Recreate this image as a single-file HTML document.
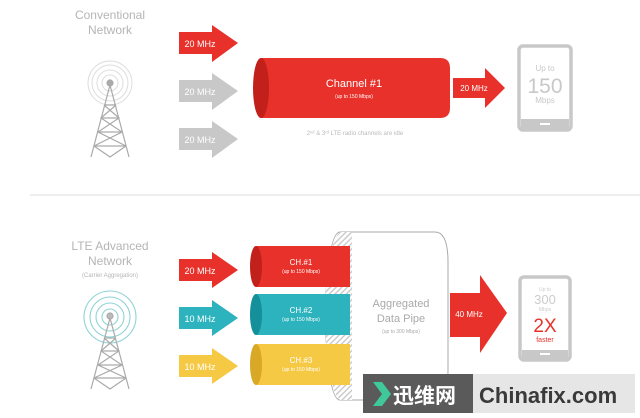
<!DOCTYPE html>
<html><head><meta charset="utf-8"><style>
body{margin:0;background:#fff;}
svg{display:block;font-family:"Liberation Sans","Noto Sans CJK SC",sans-serif;}
</style></head><body>
<svg width="640" height="418" viewBox="0 0 640 418" xmlns="http://www.w3.org/2000/svg">
<defs>
<pattern id="h" width="4" height="4" patternUnits="userSpaceOnUse" patternTransform="rotate(45)"><rect width="4" height="4" fill="#fff"/><rect width="1.5" height="4" fill="#ccc"/></pattern>
</defs>
<!-- Top section -->
<g fill="#b5b5b5" font-size="12" text-anchor="middle"><text x="110" y="19">Conventional</text><text x="110" y="34">Network</text></g>
<g fill="none" stroke="#ddd" stroke-width="1"><circle cx="110" cy="83" r="8"/><circle cx="110" cy="83" r="13"/><circle cx="110" cy="83" r="18"/><circle cx="110" cy="83" r="22"/></g>
<g stroke="#aaa" stroke-width="1.2" fill="none">
<circle cx="110" cy="83" r="3" fill="#aaa"/>
<path d="M110 85 L91 157 M110 85 L129 157 M104 105 L116 105 M101 118 L119 118 M98 132 L122 132 M94 146 L126 146 M104 105 L119 118 L98 132 L126 146 M116 105 L101 118 L122 132 L94 146 M94 146 L110 157 L126 146"/>
</g>
<!-- top arrows -->
<path d="M179 32 H212 V25 L238 43 L212 62 V54 H179Z" fill="#e8312a"/>
<text x="200" y="47" fill="#fff" font-size="9" text-anchor="middle">20 MHz</text>
<path d="M179 80 H212 V73 L238 91 L212 110 V102 H179Z" fill="#c8c8c8"/>
<text x="200" y="95" fill="#fff" font-size="9" text-anchor="middle">20 MHz</text>
<path d="M179 128 H212 V121 L238 139 L212 158 V150 H179Z" fill="#c8c8c8"/>
<text x="200" y="143" fill="#fff" font-size="9" text-anchor="middle">20 MHz</text>
<!-- channel cylinder -->
<path d="M261 58 H440 Q450 58 450 68 V108 Q450 118 440 118 H261Z" fill="#e8312a"/>
<ellipse cx="261" cy="88" rx="8" ry="30" fill="#c2201b"/>
<text x="354" y="87" fill="#fff" font-size="11" text-anchor="middle">Channel #1</text>
<text x="354" y="98" fill="#fff" font-size="5" text-anchor="middle">(up to 150 Mbps)</text>
<text x="355" y="135" fill="#bbb" font-size="6" text-anchor="middle">2ⁿᵈ &amp; 3ʳᵈ LTE radio channels are idle</text>
<path d="M453 78 H485 V68 L505 88 L485 108 V98 H453Z" fill="#e8312a"/>
<text x="474" y="91" fill="#fff" font-size="8" text-anchor="middle">20 MHz</text>
<!-- phone top -->
<rect x="519" y="46" width="52" height="84" rx="4" fill="#fff" stroke="#c8c8c8" stroke-width="3.5"/>
<rect x="521" y="119" width="48" height="10" fill="#c8c8c8"/>
<rect x="540" y="123" width="10" height="2" fill="#fff"/>
<g fill="#c8c8c8" text-anchor="middle"><text x="545" y="71" font-size="8">Up to</text><text x="545" y="93" font-size="21">150</text><text x="545" y="103" font-size="8">Mbps</text></g>
<!-- separator -->
<rect x="30" y="194" width="610" height="2" fill="#eee"/>

<!-- Bottom -->
<g fill="#b5b5b5" text-anchor="middle"><text x="110" y="250" font-size="12">LTE Advanced</text><text x="110" y="265" font-size="12">Network</text><text x="110" y="277" font-size="6">(Carrier Aggregation)</text></g>
<g fill="none" stroke="#8fd3d6" stroke-width="1.1"><circle cx="110" cy="317" r="8"/><circle cx="110" cy="317" r="14"/><circle cx="110" cy="317" r="20"/><circle cx="110" cy="317" r="26"/></g>
<rect x="88" y="300" width="44" height="90" fill="none"/>
<g stroke="#aaa" stroke-width="1.2" fill="none">
<circle cx="110" cy="316" r="3" fill="#bbb"/>
<path d="M110 318 L91 389 M110 318 L129 389 M104 338 L116 338 M101 351 L119 351 M98 365 L122 365 M94 378 L126 378 M104 338 L119 351 L98 365 L126 378 M116 338 L101 351 L122 365 L94 378 M94 378 L110 389 L126 378"/>
</g>
<path d="M179 259 H212 V252 L238 270 L212 288 V281 H179Z" fill="#e8312a"/>
<text x="200" y="274" fill="#fff" font-size="9" text-anchor="middle">20 MHz</text>
<path d="M179 307 H212 V300 L238 318 L212 336 V329 H179Z" fill="#2cb3bd"/>
<text x="200" y="322" fill="#fff" font-size="9" text-anchor="middle">10 MHz</text>
<path d="M179 355 H212 V348 L238 366 L212 384 V377 H179Z" fill="#f6c944"/>
<text x="200" y="370" fill="#fff" font-size="9" text-anchor="middle">10 MHz</text>
<!-- pipe -->
<path d="M340 232 H435 Q448 232 448 262 V370 Q448 400 435 400 H340 Q328 400 325 316 Q328 232 340 232Z" fill="#fff" stroke="#aaa" stroke-width="1"/>
<path d="M340 232 Q330 240 326 290 L326 345 Q330 392 340 400 L352 400 V232Z" fill="url(#h)"/>
<!-- cylinders -->
<rect x="256" y="246" width="94" height="41" fill="#e8312a"/>
<ellipse cx="256" cy="266.5" rx="6" ry="20.5" fill="#c2201b"/>
<rect x="256" y="294" width="94" height="41" fill="#2cb3bd"/>
<ellipse cx="256" cy="314.5" rx="6" ry="20.5" fill="#14909a"/>
<rect x="256" y="344" width="94" height="41" fill="#f6c944"/>
<ellipse cx="256" cy="364.5" rx="6" ry="20.5" fill="#d9a826"/>
<g fill="#fff" text-anchor="middle">
<text x="301" y="265" font-size="8">CH.#1</text><text x="301" y="273" font-size="5">(up to 150 Mbps)</text>
<text x="301" y="313" font-size="8">CH.#2</text><text x="301" y="321" font-size="5">(up to 150 Mbps)</text>
<text x="301" y="363" font-size="8">CH.#3</text><text x="301" y="371" font-size="5">(up to 150 Mbps)</text>
</g>
<g fill="#aaa" text-anchor="middle"><text x="401" y="307" font-size="11">Aggregated</text><text x="401" y="322" font-size="11">Data Pipe</text><text x="401" y="333" font-size="5">(up to 300 Mbps)</text></g>
<path d="M450 293 H480 V275 L507 313 L480 353 V337 H450Z" fill="#e8312a"/>
<text x="469" y="317" fill="#fff" font-size="8" text-anchor="middle">40 MHz</text>
<!-- phone bottom -->
<rect x="520" y="277" width="50" height="83" rx="4" fill="#fff" stroke="#c8c8c8" stroke-width="3.5"/>
<rect x="522" y="350" width="46" height="9" fill="#c8c8c8"/>
<rect x="540" y="353" width="10" height="2" fill="#fff"/>
<g text-anchor="middle"><text x="545" y="291" font-size="5" fill="#ccc">Up to</text><text x="545" y="304" font-size="13" fill="#ccc">300</text><text x="545" y="311" font-size="5" fill="#ccc">Mbps</text><text x="545" y="332" font-size="19" fill="#e8312a">2X</text><text x="545" y="342" font-size="7" fill="#e8312a">faster</text></g>
<!-- watermark -->
<rect x="363" y="374" width="110" height="39" fill="#5a5a5a"/>
<rect x="473" y="374" width="162" height="39" fill="#e6e6e6"/>
<path d="M373 382 H382 L391 394 L382 406 H373 L382 394Z" fill="#3fc99a"/>
<text x="393" y="403" fill="#fff" font-size="21" font-weight="bold">迅维网</text>
<text x="479" y="403" fill="#3a3a3a" font-size="22" font-weight="bold">Chinafix.com</text>
</svg>
</body></html>
